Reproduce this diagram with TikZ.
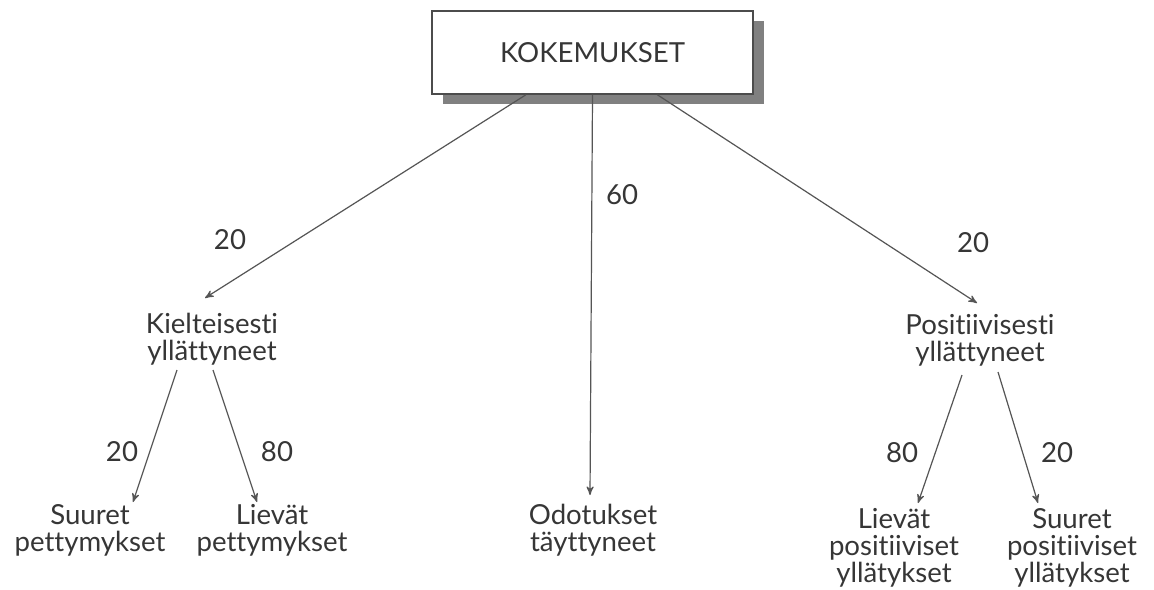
\documentclass[tikz,border=0pt]{standalone}
\usepackage{fontspec}
\setmainfont{Lato}[Ligatures=NoCommon]
\usetikzlibrary{shapes,arrows,shadows}
\definecolor{inkgray}{HTML}{363636}
\definecolor{linegray}{HTML}{555555}
\tikzstyle{line} = [draw=linegray, line width=0.6pt, -stealth']
\tikzstyle{topbox} = [rectangle, draw=black!70, line width=0.8pt, fill=white, minimum width=160.5pt, minimum height=41.5pt, drop shadow={shadow xshift=5.5pt, shadow yshift=-5pt, fill=black!50, opacity=1}]
\tikzstyle{share} = [inner sep=0pt]
\tikzstyle{group} = [align=center, inner sep=0pt]

\begin{document}
\begin{tikzpicture}[x=0.5pt, y=-0.5pt, font=\fontsize{13.8}{13.5}\selectfont, text=inkgray]
	\useasboundingbox [fill=white] (0,0) rectangle (1154,589);
	% top level
	\node [topbox] (kok) at (592.5,52.5) {KOKEMUKSET};
	\node [group] (kiel) at (212,339) {Kielteisesti\\yllättyneet};
	\node [group] (posi) at (980,340) {Positiivisesti\\yllättyneet};
	\node [group] (odot) at (593,530) {Odotukset\\täyttyneet};
	% leaves
	\node [group] (suuretp) at (90,530) {Suuret\\pettymykset};
	\node [group] (lievatp) at (272,530) {Lievät\\pettymykset};
	\node [group] (lievatpos) at (894,548) {Lievät\\positiiviset\\yllätykset};
	\node [group] (suuretpos) at (1072,548) {Suuret\\positiiviset\\yllätykset};
	% shares
	\node [share] (s20a) at (230,240) {20};
	\node [share] (s60) at (622,195) {60};
	\node [share] (s20b) at (973,243) {20};
	\node [share] (s20c) at (122,452) {20};
	\node [share] (s80a) at (277,452) {80};
	\node [share] (s80b) at (902,453) {80};
	\node [share] (s20d) at (1057,453) {20};
	\path [line] (kok) -- ([shift={(-3.5pt,20.5pt)}]kiel.center);
	\path [line] (kok.south) -- ([shift={(-1.5pt,17.5pt)}]odot.center);
	\path [line] (kok) -- ([shift={(-1.5pt,18.5pt)}]posi.center);
	\path [line] ([shift={(-17.5pt,-15.5pt)}]kiel.center) -- ([shift={(21.5pt,14pt)}]suuretp.center);
	\path [line] ([shift={(0.5pt,-15.5pt)}]kiel.center) -- ([shift={(-7.5pt,14pt)}]lievatp.center);
	\path [line] ([shift={(-9pt,-17.5pt)}]posi.center) -- ([shift={(12pt,22.5pt)}]lievatpos.center);
	\path [line] ([shift={(9pt,-16pt)}]posi.center) -- ([shift={(-17pt,22.5pt)}]suuretpos.center);
\end{tikzpicture}
\end{document}
